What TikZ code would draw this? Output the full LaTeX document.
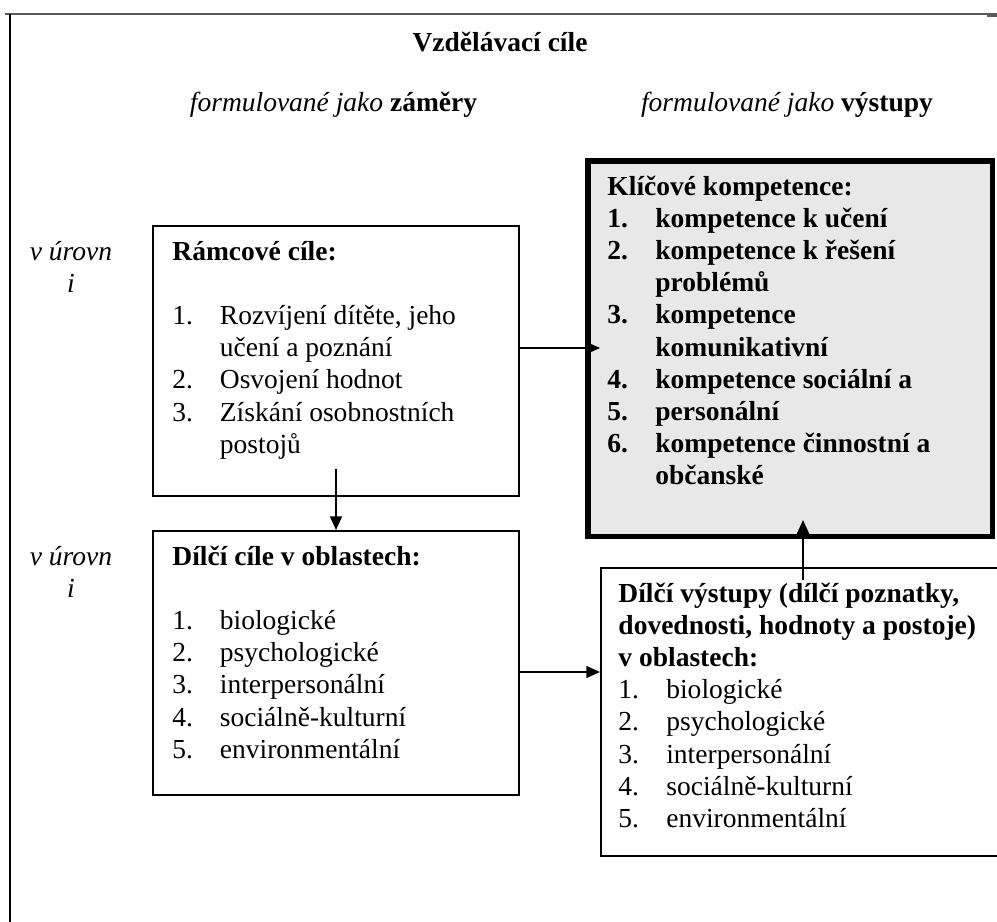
\documentclass[tikz,border=0pt]{standalone}
\usepackage{fontspec}
\setmainfont{Liberation Serif}
\usetikzlibrary{arrows.meta,fit}
\definecolor{boxgray}{RGB}{232,232,232}
\definecolor{framegray}{RGB}{90,90,90}
\tikzset{
  txt/.style={inner sep=0pt, font=\fontsize{12}{14.05}\selectfont},
  boxframe/.style={draw=black, line width=0.87pt, inner sep=0pt},
  keyframe/.style={draw=black, line width=2.4pt, fill=boxgray, inner sep=0pt},
  arr/.style={line width=0.87pt, -{Triangle[length=6pt,width=5.2pt]}},
}
\begin{document}
\begin{tikzpicture}[x=0.4363pt, y=-0.4363pt]
\useasboundingbox (0,0) rectangle (997,922);
% outer frame (open at the bottom and right)
\coordinate (ftl) at (5,14);
\coordinate (ftr) at (997,14);
\coordinate (fl1) at (10,14);
\coordinate (fl2) at (10,922);
\coordinate (fr1) at (987,15.5);
\coordinate (fr2) at (997,15.5);
\draw[framegray, line width=0.65pt] (ftl) -- (ftr);
\draw[black, line width=1.1pt] (fl1) -- (fl2);
\draw[framegray, line width=0.9pt] (fr1) -- (fr2);

% headings
\node[txt, anchor=base] (title) at (500,52) {\textbf{Vzdělávací cíle}};
\node[txt, anchor=base] (subl) at (333.5,112) {\textit{formulované jako} \textbf{záměry}};
\node[txt, anchor=base] (subr) at (787,112) {\textit{formulované jako} \textbf{výstupy}};

% level labels
\node[txt, anchor=base] (lev1) at (71,260) {\begin{tabular}[t]{@{}c@{}}\textit{v úrovn}\\ \textit{i}\end{tabular}};
\node[txt, anchor=base] (lev2) at (71,565) {\begin{tabular}[t]{@{}c@{}}\textit{v úrovn}\\ \textit{i}\end{tabular}};

% boxes
\coordinate (b1a) at (153,226);   \coordinate (b1b) at (519,496);
\coordinate (b2a) at (153,531);   \coordinate (b2b) at (519,795);
\coordinate (b3a) at (601,568);   \coordinate (b3b) at (1003,856);
\coordinate (gka) at (587.75,160.75); \coordinate (gkb) at (992.25,536.25);
\node[keyframe, fit=(gka)(gkb)] (gk) {};
\node[boxframe, fit=(b1a)(b1b)] (b1) {};
\node[boxframe, fit=(b2a)(b2b)] (b2) {};
\node[boxframe, fit=(b3a)(b3b)] (b3) {};

% box texts
\node[txt, anchor=base west] (b1t) at (172,260) {%
\begin{tabular}[t]{@{}p{20.7pt}@{}l@{}}
\multicolumn{2}{@{}l@{}}{\textbf{Rámcové cíle:}}\\
\multicolumn{2}{@{}l@{}}{}\\
1. & Rozvíjení dítěte, jeho\\
   & učení a poznání\\
2. & Osvojení hodnot\\
3. & Získání osobnostních\\
   & postojů
\end{tabular}};

\node[txt, anchor=base west] (b2t) at (172,565) {%
\begin{tabular}[t]{@{}p{20.7pt}@{}l@{}}
\multicolumn{2}{@{}l@{}}{\textbf{Dílčí cíle v oblastech:}}\\
\multicolumn{2}{@{}l@{}}{}\\
1. & biologické\\
2. & psychologické\\
3. & interpersonální\\
4. & sociálně-kulturní\\
5. & environmentální
\end{tabular}};

\node[txt, anchor=base west] (gkt) at (607,195) {%
\bfseries
\begin{tabular}[t]{@{}p{20.9pt}@{}l@{}}
\multicolumn{2}{@{}l@{}}{Klíčové kompetence:}\\
1. & kompetence k učení\\
2. & kompetence k řešení\\
   & problémů\\
3. & kompetence\\
   & komunikativní\\
4. & kompetence sociální a\\
5. & personální\\
6. & kompetence činnostní a\\
   & občanské
\end{tabular}};

\node[txt, anchor=base west] (b3t) at (618,602) {%
\begin{tabular}[t]{@{}p{20.9pt}@{}l@{}}
\multicolumn{2}{@{}l@{}}{\textbf{Dílčí výstupy (dílčí poznatky,}}\\
\multicolumn{2}{@{}l@{}}{\textbf{dovednosti, hodnoty a postoje)}}\\
\multicolumn{2}{@{}l@{}}{\textbf{v oblastech:}}\\
1. & biologické\\
2. & psychologické\\
3. & interpersonální\\
4. & sociálně-kulturní\\
5. & environmentální
\end{tabular}};

% connectors
\coordinate (a1e) at (600,348);
\draw[arr] (b1.east |- a1e) -- (a1e);
\coordinate (a2s) at (336,469);
\draw[arr] (a2s) -- (b2.north);
\coordinate (a3e) at (600,672);
\draw[arr] (b2.east |- a3e) -- (a3e);
\coordinate (a4s) at (803,580);
\coordinate (a4e) at (803,520);
\draw[arr] (a4s) -- (a4e);
\end{tikzpicture}
\end{document}
